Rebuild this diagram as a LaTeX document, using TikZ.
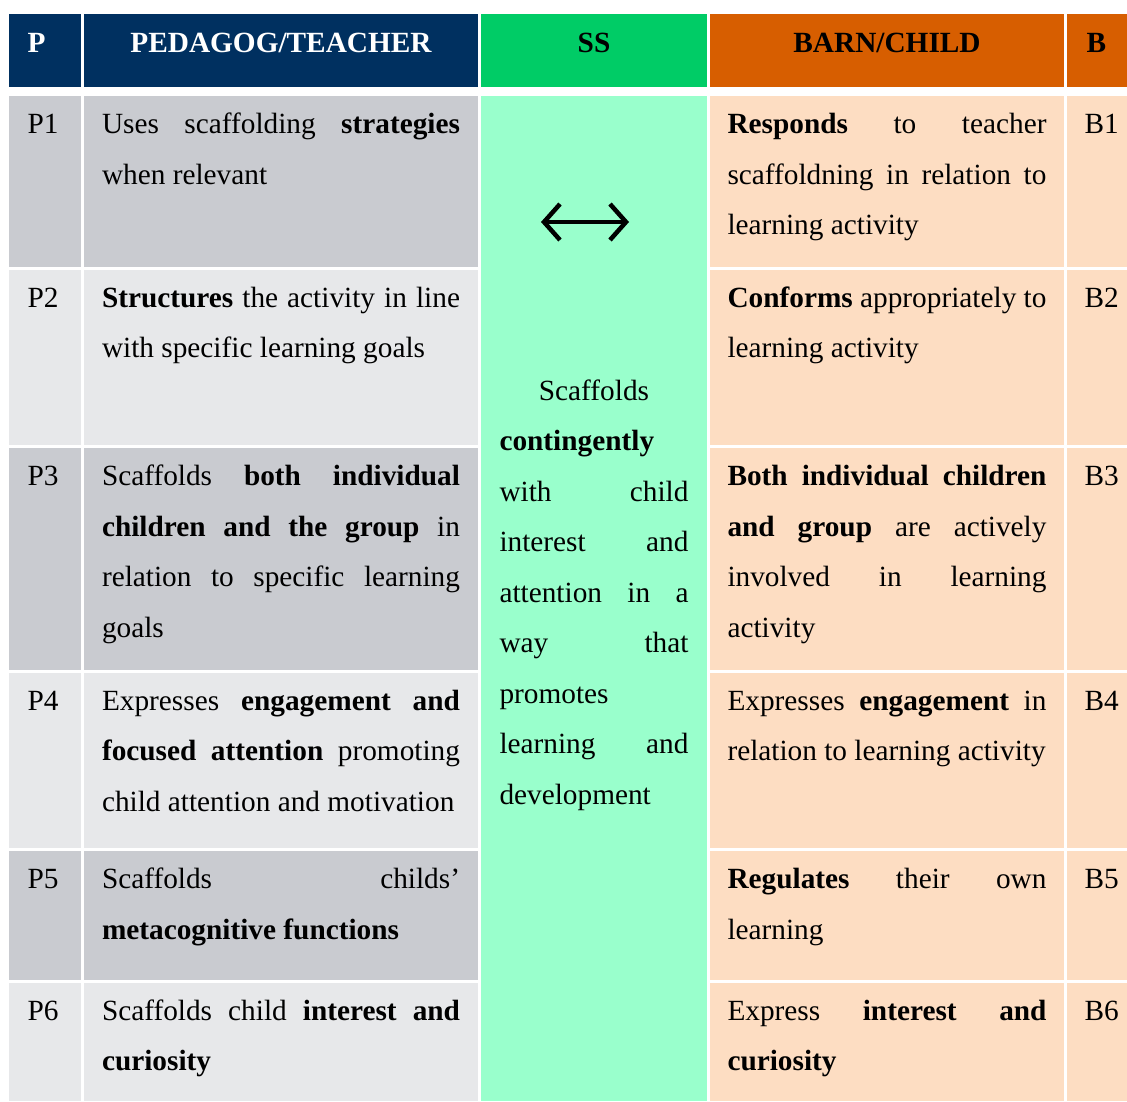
\documentclass[tikz,border=0pt]{standalone}
\usepackage{fontspec}
\setmainfont{Liberation Serif}
\usetikzlibrary{arrows.meta}
\setlength\parindent{0pt}
\definecolor{navy}{RGB}{0,48,96}
\definecolor{hgreen}{RGB}{0,204,102}
\definecolor{sgreen}{RGB}{153,255,204}
\definecolor{horange}{RGB}{215,94,0}
\definecolor{lorange}{RGB}{253,221,194}
\definecolor{gdark}{RGB}{201,203,208}
\definecolor{glight}{RGB}{231,232,234}
\newcommand\jl[2]{\makebox[#1pt][s]{#2}}
\newcommand\cell[6]{\node[cellbox, fill=#6, minimum width={(#4-#2)*1pt}, minimum height={(#5-#3)*1pt}] (#1) at (#2,#3) {};}
\newcommand\tx[5]{\node[txt, text width=#4pt] (#1) at (#2,{#3-22}) {\spaceskip=0pt\xspaceskip=0pt\hyphenpenalty=10000\rule{0pt}{22pt}#5};}
\newcommand\lab[4]{\node[lbl] (#1) at (#2,#3) {#4};}
\tikzset{
  cellbox/.style={draw=none, inner sep=0pt, outer sep=0pt, anchor=north west},
  txt/.style={inner sep=0pt, outer sep=0pt, anchor=north west, align=left, font=\fontsize{29.3}{50.5}\selectfont},
  lbl/.style={inner sep=0pt, outer sep=0pt, anchor=base west, font=\fontsize{29.3}{50.5}\selectfont},
  hdr/.style={inner sep=0pt, outer sep=0pt, anchor=base, font=\fontsize{29.3}{50.5}\selectfont\bfseries},
  dblarrow/.style={line width=4.5pt, {Straight Barb[length=16pt,width=36pt]}-{Straight Barb[length=16pt,width=36pt]}}
}
\begin{document}
\begin{tikzpicture}[x=1pt,y=-1pt]
\useasboundingbox (0,0) rectangle (1127,1101);
% header cells
\cell{hP}{9}{14}{81}{87}{navy}
\cell{hT}{84}{14}{478}{87}{navy}
\cell{hS}{481}{14}{707}{87}{hgreen}
\cell{hC}{710}{14}{1064}{87}{horange}
\cell{hB}{1067}{14}{1127}{87}{horange}
% SS body
\cell{sBody}{481}{96}{707}{1101}{sgreen}
% rows
\cell{p1}{9}{96}{81}{266.5}{gdark}
\cell{t1}{84}{96}{478}{266.5}{gdark}
\cell{c1}{710}{96}{1064}{266.5}{lorange}
\cell{b1}{1067}{96}{1127}{266.5}{lorange}
\cell{p2}{9}{269.5}{81}{445}{glight}
\cell{t2}{84}{269.5}{478}{445}{glight}
\cell{c2}{710}{269.5}{1064}{445}{lorange}
\cell{b2}{1067}{269.5}{1127}{445}{lorange}
\cell{p3}{9}{448}{81}{669.5}{gdark}
\cell{t3}{84}{448}{478}{669.5}{gdark}
\cell{c3}{710}{448}{1064}{669.5}{lorange}
\cell{b3}{1067}{448}{1127}{669.5}{lorange}
\cell{p4}{9}{672.5}{81}{848}{glight}
\cell{t4}{84}{672.5}{478}{848}{glight}
\cell{c4}{710}{672.5}{1064}{848}{lorange}
\cell{b4}{1067}{672.5}{1127}{848}{lorange}
\cell{p5}{9}{851}{81}{980}{gdark}
\cell{t5}{84}{851}{478}{980}{gdark}
\cell{c5}{710}{851}{1064}{980}{lorange}
\cell{b5}{1067}{851}{1127}{980}{lorange}
\cell{p6}{9}{982.5}{81}{1101}{glight}
\cell{t6}{84}{982.5}{478}{1101}{glight}
\cell{c6}{710}{982.5}{1064}{1101}{lorange}
\cell{b6}{1067}{982.5}{1127}{1101}{lorange}
% header text
\node[hdr, anchor=base west, text=white] (hPt) at (27.5,52) {P};
\node[hdr, text=white] (hTt) at (281,52) {PEDAGOG/TEACHER};
\node[hdr] (hSt) at (594,52) {SS};
\node[hdr] (hCt) at (887,52) {BARN/CHILD};
\node[hdr, anchor=base west] (hBt) at (1086.5,52) {B};
% row labels
\lab{lP1}{27.5}{133.5}{P1}
\lab{lP2}{27.5}{307}{P2}
\lab{lP3}{27.5}{485.5}{P3}
\lab{lP4}{27.5}{710}{P4}
\lab{lP5}{27.5}{888.5}{P5}
\lab{lP6}{27.5}{1020}{P6}
\lab{lB1}{1084.5}{133.5}{B1}
\lab{lB2}{1084.5}{307}{B2}
\lab{lB3}{1084.5}{485.5}{B3}
\lab{lB4}{1084.5}{710}{B4}
\lab{lB5}{1084.5}{888.5}{B5}
\lab{lB6}{1084.5}{1020}{B6}
% teacher texts
\tx{T1}{102}{133.5}{358}{\jl{358}{Uses scaffolding \textbf{strategies}}\\when relevant}
\tx{T2}{102}{307}{358}{\jl{358}{\textbf{Structures} the activity in line}\\with specific learning goals}
\tx{T3}{102}{485.5}{358}{\jl{358}{Scaffolds \textbf{both individual}}\\\jl{358}{\textbf{children and the group} in}\\\jl{358}{relation to specific learning}\\goals}
\tx{T4}{102}{710}{358}{\jl{358}{Expresses \textbf{engagement and}}\\\jl{358}{\textbf{focused attention} promoting}\\child attention and motivation}
\tx{T5}{102}{888.5}{358}{\jl{358}{Scaffolds childs’}\\\textbf{metacognitive functions}}
\tx{T6}{102}{1020}{358}{\jl{358}{Scaffolds child \textbf{interest and}}\\\textbf{curiosity}}
% child texts
\tx{C1}{727.5}{133.5}{319}{\jl{319}{\textbf{Responds} to teacher}\\\jl{319}{scaffoldning in relation to}\\learning activity}
\tx{C2}{727.5}{307}{319}{\jl{319}{\textbf{Conforms} appropriately to}\\learning activity}
\tx{C3}{727.5}{485.5}{319}{\jl{319}{\textbf{Both individual children}}\\\jl{319}{\textbf{and group} are actively}\\\jl{319}{involved in learning}\\activity}
\tx{C4}{727.5}{710}{319}{\jl{319}{Expresses \textbf{engagement} in}\\relation to learning activity}
\tx{C5}{727.5}{888.5}{319}{\jl{319}{\textbf{Regulates} their own}\\learning}
\tx{C6}{727.5}{1020}{319}{\jl{319}{Express \textbf{interest and}}\\\textbf{curiosity}}
% SS text
\tx{S1}{499.5}{400}{189}{\makebox[189pt][c]{Scaffolds}\\\textbf{contingently}\\\jl{189}{with child}\\\jl{189}{interest and}\\\jl{189}{attention in a}\\\jl{189}{way that}\\promotes\\\jl{189}{learning and}\\development}
% arrow
\coordinate (al) at (541,222);
\coordinate (ar) at (629,222);
\draw[dblarrow] (al) -- (ar);
\end{tikzpicture}
\end{document}
